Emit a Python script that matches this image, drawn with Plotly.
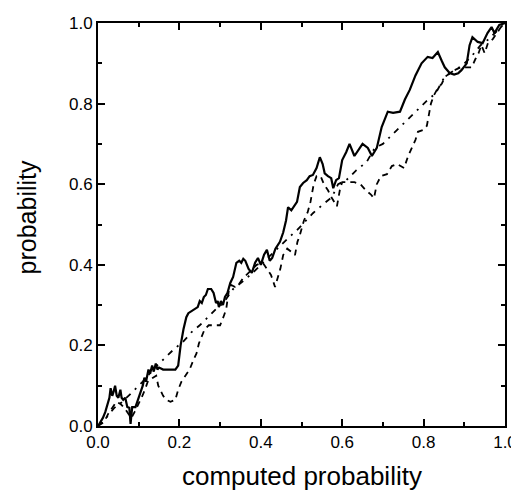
import plotly.graph_objects as go

# ---- data ----
solid_x = [0, 0.006, 0.012, 0.018, 0.023, 0.028, 0.031, 0.035, 0.038, 0.042, 0.046, 0.05, 0.055, 0.058,
           0.062, 0.067, 0.072, 0.077, 0.08, 0.084, 0.092, 0.1, 0.105, 0.11, 0.114, 0.118, 0.124, 0.128,
           0.133, 0.137, 0.142, 0.146, 0.15, 0.16, 0.175, 0.19, 0.197, 0.203, 0.21, 0.217, 0.222, 0.23,
           0.237, 0.245, 0.25, 0.255, 0.26, 0.265, 0.27, 0.278, 0.284, 0.29, 0.294, 0.297, 0.302, 0.307,
           0.312, 0.318, 0.325, 0.332, 0.34, 0.347, 0.352, 0.357, 0.362, 0.37, 0.378, 0.386, 0.393, 0.4,
           0.408, 0.415, 0.422, 0.428, 0.436, 0.447, 0.455, 0.462, 0.467, 0.475, 0.489, 0.496, 0.504,
           0.513, 0.52, 0.528, 0.537, 0.545, 0.552, 0.557, 0.565, 0.573, 0.578, 0.585, 0.592, 0.6, 0.61,
           0.618, 0.63, 0.64, 0.65, 0.663, 0.673, 0.685, 0.697, 0.712, 0.725, 0.742, 0.754, 0.766, 0.78,
           0.795, 0.81, 0.822, 0.835, 0.845, 0.852, 0.864, 0.875, 0.885, 0.893, 0.906, 0.913, 0.92,
           0.933, 0.945, 0.957, 0.967, 0.974, 0.986, 1.0]
solid_y = [0, 0.01, 0.02, 0.035, 0.052, 0.07, 0.094, 0.075, 0.084, 0.1, 0.075, 0.07, 0.09, 0.07,
           0.065, 0.07, 0.047, 0.045, 0.005, 0.047, 0.047, 0.07, 0.09, 0.1, 0.12, 0.11, 0.14, 0.13,
           0.15, 0.135, 0.155, 0.14, 0.145, 0.14, 0.14, 0.14, 0.15, 0.2, 0.24, 0.27, 0.28, 0.285,
           0.29, 0.295, 0.31, 0.305, 0.32, 0.325, 0.34, 0.34, 0.33, 0.305, 0.31, 0.295, 0.31, 0.3,
           0.32, 0.33, 0.355, 0.37, 0.405, 0.41, 0.405, 0.415, 0.41, 0.39, 0.38, 0.405, 0.417, 0.40,
           0.425, 0.437, 0.41, 0.417, 0.44, 0.457, 0.48, 0.51, 0.543, 0.535, 0.556, 0.593, 0.603,
           0.61, 0.62, 0.623, 0.64, 0.667, 0.65, 0.627, 0.62, 0.615, 0.59, 0.61, 0.615, 0.66, 0.68,
           0.70, 0.67, 0.685, 0.70, 0.69, 0.67, 0.69, 0.742, 0.78, 0.777, 0.78, 0.81, 0.834, 0.87,
           0.90, 0.916, 0.913, 0.928, 0.905, 0.89, 0.876, 0.872, 0.875, 0.883, 0.9, 0.945, 0.965,
           0.953, 0.95, 0.975, 0.99, 0.975, 0.995, 1.0]

dashdot_x = [0, 0.02, 0.04, 0.06, 0.085, 0.11, 0.14, 0.165, 0.186, 0.21, 0.23, 0.25, 0.27, 0.29,
             0.308, 0.332, 0.357, 0.38, 0.41, 0.44, 0.467, 0.489, 0.51, 0.528, 0.553, 0.575, 0.59,
             0.61, 0.635, 0.66, 0.68, 0.70, 0.72, 0.742, 0.764, 0.786, 0.807, 0.83, 0.848, 0.865,
             0.88, 0.896, 0.92, 0.94, 0.96, 0.98, 1.0]
dashdot_y = [0, 0.02, 0.045, 0.06, 0.085, 0.11, 0.145, 0.17, 0.19, 0.21, 0.233, 0.25, 0.27, 0.29,
             0.305, 0.34, 0.36, 0.38, 0.41, 0.44, 0.466, 0.486, 0.51, 0.528, 0.55, 0.568, 0.6,
             0.61, 0.635, 0.655, 0.69, 0.70, 0.72, 0.742, 0.764, 0.786, 0.806, 0.826, 0.86, 0.876,
             0.885, 0.895, 0.92, 0.945, 0.96, 0.98, 1.0]

dashed_x = [0, 0.015, 0.025, 0.035, 0.045, 0.055, 0.065, 0.075, 0.082, 0.09, 0.1, 0.11, 0.117, 0.123,
            0.135, 0.143, 0.148, 0.153, 0.16, 0.168, 0.178, 0.19, 0.197, 0.205, 0.215, 0.225, 0.235,
            0.242, 0.248, 0.256, 0.262, 0.272, 0.285, 0.3, 0.308, 0.315, 0.322, 0.327, 0.337, 0.345,
            0.355, 0.37, 0.39, 0.405, 0.415, 0.425, 0.435, 0.443, 0.448, 0.455, 0.465, 0.475, 0.484,
            0.49, 0.496, 0.506, 0.515, 0.522, 0.53, 0.537, 0.547, 0.555, 0.565, 0.575, 0.587, 0.595,
            0.6, 0.615, 0.63, 0.645, 0.658, 0.67, 0.678, 0.685, 0.695, 0.71, 0.722, 0.735, 0.752,
            0.762, 0.772, 0.78, 0.786, 0.8, 0.808, 0.813, 0.818, 0.825, 0.833, 0.845, 0.852, 0.865,
            0.88, 0.892, 0.905, 0.918, 0.927, 0.935, 0.942, 0.95, 0.958, 0.97, 0.98, 0.99, 1.0]
dashed_y = [0, 0.01, 0.03, 0.045, 0.06, 0.055, 0.045, 0.03, 0.02, 0.035, 0.055, 0.077, 0.095, 0.112,
            0.12, 0.125, 0.1, 0.09, 0.075, 0.065, 0.06, 0.065, 0.09, 0.11, 0.125, 0.14, 0.165,
            0.18, 0.205, 0.225, 0.24, 0.25, 0.25, 0.25, 0.27, 0.29, 0.34, 0.35, 0.345, 0.35,
            0.365, 0.38, 0.40, 0.405, 0.39, 0.375, 0.345, 0.37, 0.39, 0.424, 0.44, 0.432, 0.424,
            0.457, 0.474, 0.51, 0.53, 0.556, 0.6, 0.62, 0.62, 0.6, 0.585, 0.565, 0.545, 0.59,
            0.605, 0.605, 0.605, 0.6, 0.585, 0.575, 0.565, 0.6, 0.62, 0.625, 0.645, 0.65, 0.64,
            0.67, 0.69, 0.71, 0.73, 0.735, 0.745, 0.775, 0.8, 0.82, 0.835, 0.85, 0.866, 0.876,
            0.885, 0.89, 0.89, 0.89, 0.91, 0.925, 0.945, 0.925, 0.95, 0.96, 0.975, 0.99, 1.0]

tick_vals = [0.0, 0.2, 0.4, 0.6, 0.8, 1.0]
tick_text = ["0.0", "0.2", "0.4", "0.6", "0.8", "1.0"]
x_title = "computed probability"
y_title = "probability"

FONT = "Arial, Liberation Sans, sans-serif"

fig = go.Figure()
fig.add_trace(go.Scatter(x=solid_x, y=solid_y, mode="lines",
                         line=dict(color="black", width=2.2), showlegend=False))
fig.add_trace(go.Scatter(x=dashdot_x, y=dashdot_y, mode="lines",
                         line=dict(color="black", width=1.8, dash="6px,6px,2px,6px"), showlegend=False))
fig.add_trace(go.Scatter(x=dashed_x, y=dashed_y, mode="lines",
                         line=dict(color="black", width=1.8, dash="6px,5px"), showlegend=False))

axis_common = dict(
    range=[0, 1], tickvals=tick_vals, ticktext=tick_text,
    ticks="inside", ticklen=7, tickwidth=1.5, tickcolor="black",
    showline=True, linewidth=2, linecolor="black", mirror="ticks",
    showgrid=False, zeroline=False, automargin=False,
    tickfont=dict(family=FONT, size=17, color="black"),
    minor=dict(tickvals=[0.1, 0.3, 0.5, 0.7, 0.9], ticks="inside", ticklen=4,
               tickwidth=1.5, tickcolor="black", showgrid=False),
    fixedrange=True,
)

# the page body adds an 8px offset, so the figure is sized/margined to compensate
fig.update_layout(
    width=511, height=485,
    margin=dict(l=89.5, r=13.5, t=15, b=67, autoexpand=False),
    paper_bgcolor="white", plot_bgcolor="white",
    xaxis=dict(**axis_common),
    yaxis=dict(**axis_common),
    annotations=[
        dict(text=x_title, xref="paper", yref="paper", x=0.5, y=-0.125,
             xanchor="center", yanchor="middle", showarrow=False,
             font=dict(family=FONT, size=26, color="black")),
        dict(text=y_title, xref="paper", yref="paper", x=-0.175, y=0.517,
             xanchor="center", yanchor="middle", showarrow=False, textangle=-90,
             font=dict(family=FONT, size=25, color="black")),
    ],
)

fig.write_html("out.html")
